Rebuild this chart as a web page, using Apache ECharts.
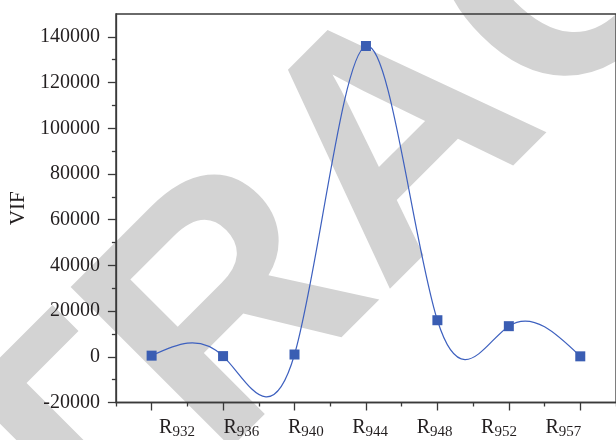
<!DOCTYPE html>
<html>
<head>
<meta charset="utf-8">
<script src="https://cdn.jsdelivr.net/npm/echarts@6/dist/echarts.min.js"></script>
<style>
html, body { margin: 0; padding: 0; background: #fff; }
#chart { width: 616px; height: 440px; }
</style>
</head>
<body>
<div id="chart"></div>
<script>
// Residue numbers along the x axis (drawn as R with a subscript)
const residues = ['932', '936', '940', '944', '948', '952', '957'];
// Variance inflation factor per residue
const vif = [500, 300, 1000, 136000, 16000, 13400, 200];
// Y axis tick positions
const majorTicks = [-20000, 0, 20000, 40000, 60000, 80000, 100000, 120000, 140000];
const minorTicks = [-10000, 10000, 30000, 50000, 70000, 90000, 110000, 130000];

const serif = '"Liberation Serif", "DejaVu Serif", serif';
const axisColor = '#3a3a3a';
const textColor = '#231f20';
const markColor = '#3a5db3';
const lineColor = '#3d60bf';

// Second derivatives of a natural cubic spline through equally spaced points
function splineMoments(ys) {
  const n = ys.length;
  const m = new Array(n).fill(0);
  const cp = new Array(n).fill(0);
  const dp = new Array(n).fill(0);
  for (let i = 1; i < n - 1; i++) {
    const rhs = 6 * (ys[i + 1] - 2 * ys[i] + ys[i - 1]);
    const denom = 4 - cp[i - 1];
    cp[i] = 1 / denom;
    dp[i] = (rhs - dp[i - 1]) / denom;
  }
  for (let i = n - 2; i >= 1; i--) m[i] = dp[i] - cp[i] * m[i + 1];
  return m;
}
const moments = splineMoments(vif);

// Each spline piece is an exact cubic Bezier; its control points are mapped through the axes
function renderSegment(params, api) {
  const i = params.dataIndex;
  if (i >= vif.length - 1) return null;
  const y0 = vif[i], y1 = vif[i + 1];
  const m0 = moments[i], m1 = moments[i + 1];
  const d0 = (y1 - y0) - (2 * m0 + m1) / 6;
  const d1 = (y1 - y0) + (m0 + 2 * m1) / 6;
  const p0 = api.coord([i, y0]);
  const p3 = api.coord([i + 1, y1]);
  const dx = (p3[0] - p0[0]) / 3;
  const c1y = api.coord([i, y0 + d0 / 3])[1];
  const c2y = api.coord([i, y1 - d1 / 3])[1];
  const path = 'M' + p0[0] + ' ' + p0[1] +
    ' C' + (p0[0] + dx) + ' ' + c1y + ' ' + (p3[0] - dx) + ' ' + c2y + ' ' + p3[0] + ' ' + p3[1];
  return {
    type: 'path',
    shape: { pathData: path },
    style: { fill: 'none', stroke: lineColor, lineWidth: 1.2 }
  };
}

const chart = echarts.init(document.getElementById('chart'), null, { renderer: 'canvas' });

chart.setOption({
  animation: false,
  backgroundColor: '#fff',
  graphic: [{
    type: 'text',
    x: 404,
    y: 146,
    rotation: Math.PI / 4,
    z: -100,
    silent: true,
    style: {
      text: 'RETRACTED',
      font: 'bold 330px "Liberation Sans", Arial, sans-serif',
      fill: '#d3d3d3',
      align: 'center',
      verticalAlign: 'middle'
    }
  }],
  grid: [{
    // plotting frame
    left: 115.5,
    top: 14,
    width: 506.5,
    height: 388.5,
    show: true,
    borderColor: axisColor,
    borderWidth: 1.3,
    backgroundColor: 'transparent'
  }, {
    // the residue labels sit on their own, slightly narrower, band
    left: 144.8,
    top: 14,
    width: 450.8,
    height: 388.5,
    show: false
  }],
  xAxis: [{
    type: 'category',
    gridIndex: 0,
    data: residues,
    boundaryGap: true,
    axisLine: { show: true, onZero: false, lineStyle: { color: axisColor, width: 1.3 } },
    axisTick: { show: true, alignWithLabel: true, interval: 0, inside: false, length: 8, lineStyle: { color: axisColor, width: 1.3 } },
    axisLabel: { show: true, interval: 0, formatter: function () { return ''; } },
    splitLine: { show: false }
  }, {
    type: 'category',
    gridIndex: 0,
    data: residues,
    boundaryGap: true,
    position: 'bottom',
    axisLine: { show: false, onZero: false },
    axisTick: { show: true, alignWithLabel: false, interval: 0, inside: false, length: 4, lineStyle: { color: axisColor, width: 1.3 } },
    axisLabel: { show: true, interval: 0, formatter: function () { return ''; } },
    splitLine: { show: false }
  }, {
    type: 'category',
    gridIndex: 1,
    data: residues,
    boundaryGap: true,
    position: 'bottom',
    axisLine: { show: false, onZero: false },
    axisTick: { show: false },
    axisLabel: {
      interval: 0,
      margin: 15,
      formatter: function (v) { return '{r|R}{s|' + v + '}'; },
      rich: {
        r: { fontFamily: serif, fontSize: 20, color: textColor, lineHeight: 24 },
        s: { fontFamily: serif, fontSize: 15, color: textColor, lineHeight: 10, verticalAlign: 'bottom' }
      }
    },
    splitLine: { show: false }
  }],
  yAxis: [{
    type: 'value',
    gridIndex: 0,
    min: -20000,
    max: 150000,
    interval: 20000,
    name: 'VIF',
    nameLocation: 'middle',
    nameGap: 81,
    nameTextStyle: { fontFamily: serif, fontSize: 21, color: textColor },
    axisLine: { show: true, onZero: false, lineStyle: { color: axisColor, width: 1.3 } },
    axisTick: { show: true, length: 8, customValues: majorTicks, lineStyle: { color: axisColor, width: 1.3 } },
    axisLabel: {
      margin: 16,
      customValues: majorTicks,
      formatter: function (v) { return String(v); },
      fontFamily: serif,
      fontSize: 20,
      color: textColor
    },
    splitLine: { show: false }
  }, {
    type: 'value',
    gridIndex: 0,
    min: -20000,
    max: 150000,
    interval: 20000,
    position: 'left',
    axisLine: { show: false, onZero: false },
    axisTick: { show: true, length: 4, customValues: minorTicks, lineStyle: { color: axisColor, width: 1.3 } },
    axisLabel: { show: false },
    splitLine: { show: false }
  }, {
    type: 'value',
    gridIndex: 1,
    min: -20000,
    max: 150000,
    show: false
  }],
  series: [{
    type: 'custom',
    xAxisIndex: 0,
    yAxisIndex: 0,
    renderItem: renderSegment,
    data: vif.map(function (v, i) { return [i, v]; }),
    clip: false,
    silent: true,
    z: 2
  }, {
    type: 'scatter',
    xAxisIndex: 0,
    yAxisIndex: 0,
    data: vif,
    symbol: 'rect',
    symbolSize: 10,
    itemStyle: { color: markColor, opacity: 1 },
    z: 3
  }]
});
</script>
</body>
</html>
